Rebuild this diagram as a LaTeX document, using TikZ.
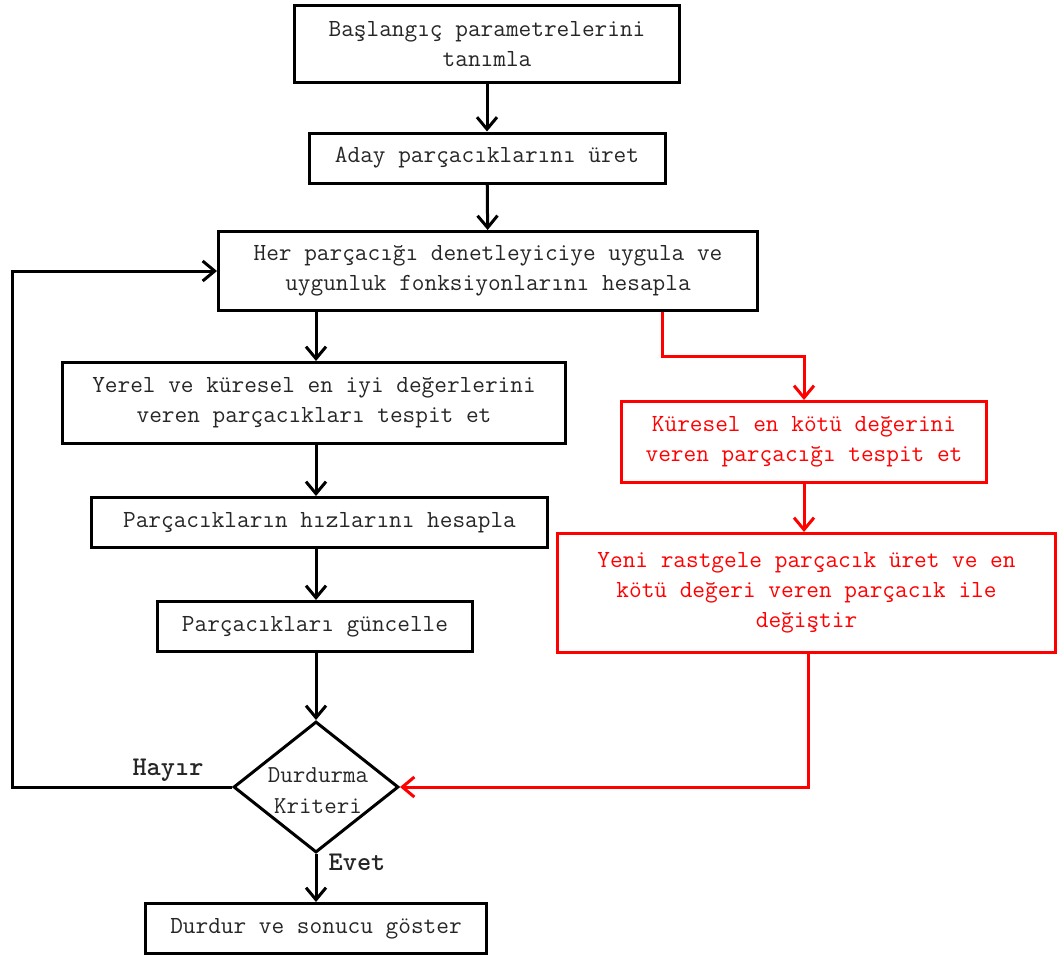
\documentclass[tikz,border=0pt]{standalone}
\usepackage{fontspec}
\usetikzlibrary{arrows.meta,shapes.geometric}
\definecolor{fred}{RGB}{255,0,0}
\tikzset{
  box/.style={draw=black, line width=3pt, inner sep=0pt, align=center,
    font=\ttfamily\fontsize{24.6}{30}\selectfont, text=black!85},
  redbox/.style={box, draw=fred, text=fred},
  decision/.style={draw=black, line width=3pt, diamond, inner sep=0pt,
    minimum width=165pt, minimum height=131pt},
  arr/.style={draw=black, line width=3pt, -{Straight Barb[length=12pt,width=20pt,line width=3pt]}},
  redarr/.style={arr, draw=fred},
  lbl/.style={font=\ttfamily\bfseries\fontsize{27}{28}\selectfont, text=black!85, inner sep=0pt},
}
\begin{document}
\begin{tikzpicture}[x=1pt,y=-1pt]
\useasboundingbox (0,0) rectangle (1057,958);
\node[box, minimum width=385pt, minimum height=77pt] (b1) at (487,44) {Başlangıç parametrelerini\\tanımla};
\node[box, minimum width=356pt, minimum height=50pt] (b2) at (487,158) {Aday parçacıklarını üret};
\node[box, minimum width=539pt, minimum height=79pt] (b3) at (488,271) {Her parçacığı denetleyiciye uygula ve\\uygunluk fonksiyonlarını hesapla};
\node[box, minimum width=503pt, minimum height=81pt] (b4) at (314,403) {Yerel ve küresel en iyi değerlerini\\veren parçacıkları tespit et};
\node[box, minimum width=456pt, minimum height=50pt] (b5) at (319.5,522.5) {Parçacıkların hızlarını hesapla};
\node[box, minimum width=315pt, minimum height=50pt] (b6) at (315,626.5) {Parçacıkları güncelle};
\node[decision] (d) at (316,787) {};
\node[box, draw=none, font=\ttfamily\fontsize{24.3}{31}\selectfont] (dtext) at (318,791) {Durdurma\\Kriteri};
\node[box, minimum width=341pt, minimum height=50pt] (b8) at (316,928.5) {Durdur ve sonucu göster};
\node[redbox, minimum width=365pt, minimum height=81pt] (b9) at (804,442) {Küresel en kötü değerini\\veren parçacığı tespit et};
\node[redbox, minimum width=498pt, minimum height=119pt] (b10) at (806.5,593) {Yeni rastgele parçacık üret ve en\\kötü değeri veren parçacık ile\\değiştir};
\node[lbl] (hayir) at (168,770) {Hayır};
\node[lbl] (evet) at (357,862) {Evet};
\coordinate (r1) at (662,356);
\coordinate (r2) at (804,356);
\coordinate (l1) at (12,0);
% black arrows
\draw[arr] (b1) -- (b2);
\draw[arr] (b2) -- (b3);
\draw[arr] (b3.south -| d.north) -- (b4.north -| d.north);
\draw[arr] (b4.south -| d.north) -- (b5.north -| d.north);
\draw[arr] (b5.south -| d.north) -- (b6.north -| d.north);
\draw[arr] (b6.south -| d.north) -- (d.north);
\draw[arr] (d.south) -- (b8.north -| d.south);
\draw[arr] (d.west) -- (d.west -| l1) -- (l1 |- b3.west) -- (b3.west);
% red arrows
\draw[redarr] (b3.south -| r1) -- (r1) -- (r2) -- (b9.north);
\draw[redarr] (b9.south) -- (b9.south |- b10.north);
\draw[redarr] ([xshift=1.5pt]b10.south) -- ([xshift=1.5pt]b10.south |- d.east) -- (d.east);
\end{tikzpicture}
\end{document}
